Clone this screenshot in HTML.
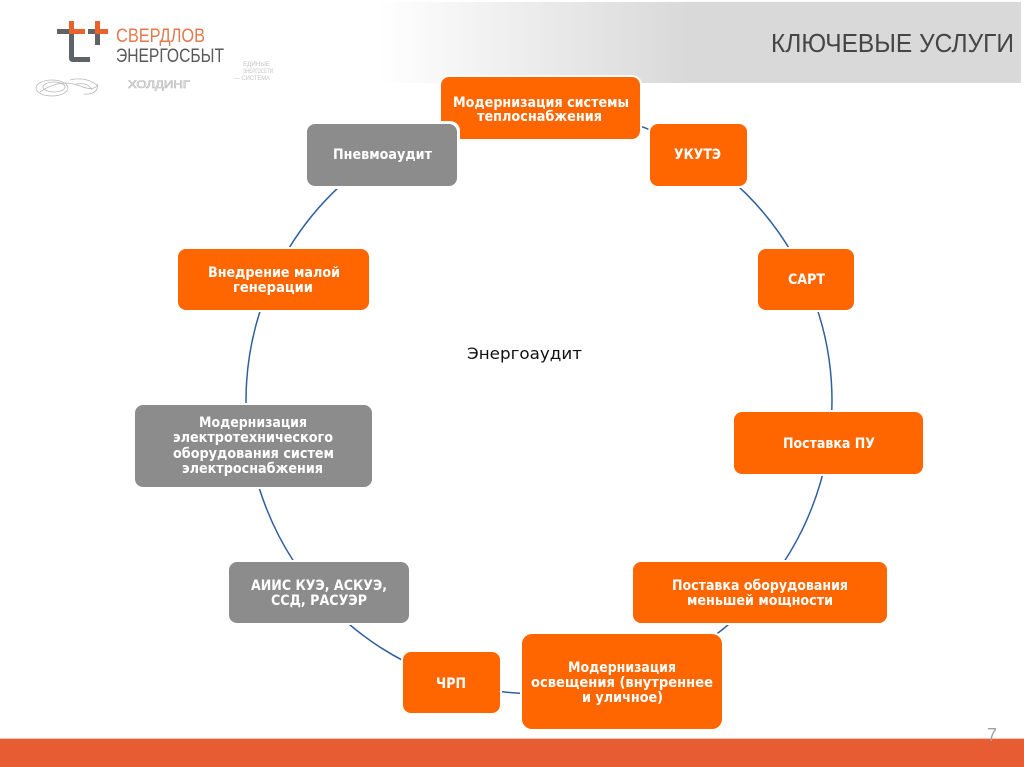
<!DOCTYPE html>
<html>
<head>
<meta charset="utf-8">
<style>
html,body{margin:0;padding:0;background:#fff;}
body{width:1024px;height:767px;overflow:hidden;}
svg{display:block;}
.bx{font-family:"DejaVu Sans","Liberation Sans",sans-serif;font-weight:bold;font-size:14px;fill:#fff;}
</style>
</head>
<body>
<svg width="1024" height="767" viewBox="0 0 1024 767" xmlns="http://www.w3.org/2000/svg">
  <defs>
    <linearGradient id="hdr" x1="0" y1="0" x2="1024" y2="0" gradientUnits="userSpaceOnUse">
      <stop offset="0" stop-color="#ffffff"/>
      <stop offset="0.37" stop-color="#ffffff"/>
      <stop offset="0.67" stop-color="#d9d9d9"/>
      <stop offset="1" stop-color="#d9d9d9"/>
    </linearGradient>
  </defs>

  <!-- header band -->
  <rect x="0" y="2" width="1021" height="81" fill="url(#hdr)"/>
  <text x="771" y="52" font-family="Liberation Sans, sans-serif" font-size="26" fill="#454545" textLength="243" lengthAdjust="spacingAndGlyphs">КЛЮЧЕВЫЕ  УСЛУГИ</text>

  <!-- logo icon -->
  <g>
    <rect x="57" y="29" width="12" height="5" fill="#5f6368"/>
    <rect x="69" y="21" width="5" height="13" fill="#e8622c"/>
    <rect x="74" y="29" width="11" height="5" fill="#e8622c"/>
    <path d="M69 34 H74 V57 H90 V62 H73 Q69 62 69 58 Z" fill="#5f6368"/>
    <rect x="88" y="29" width="7" height="5" fill="#5f6368"/>
    <rect x="95" y="21" width="5" height="13" fill="#e8622c"/>
    <rect x="100" y="29" width="8" height="5" fill="#e8622c"/>
    <rect x="95" y="34" width="5" height="11" fill="#5f6368"/>
  </g>
  <text x="116" y="42" font-family="Liberation Sans, sans-serif" font-size="19" fill="#e27a4e" textLength="89" lengthAdjust="spacingAndGlyphs">СВЕРДЛОВ</text>
  <text x="116" y="62" font-family="Liberation Sans, sans-serif" font-size="19" fill="#58595b" textLength="108" lengthAdjust="spacingAndGlyphs">ЭНЕРГОСБЫТ</text>
  <!-- swirl -->
  <g fill="none" stroke="#b8b8b8" stroke-width="0.8">
    <ellipse cx="52" cy="88" rx="16" ry="8"/>
    <ellipse cx="54" cy="87" rx="11" ry="5"/>
    <path d="M40 92 Q60 78 80 86 Q95 92 98 84"/>
    <path d="M70 80 Q86 76 98 86 Q96 95 84 94"/>
    <path d="M76 84 Q88 82 92 90"/>
  </g>
  <text x="128" y="88" font-family="Liberation Sans, sans-serif" font-size="11" fill="#ffffff" stroke="#b5b5b5" stroke-width="0.6" textLength="62" lengthAdjust="spacingAndGlyphs">ХОЛДИНГ</text>
  <g font-family="Liberation Sans, sans-serif" font-size="6" fill="#c4c4c4">
    <text x="243" y="66" textLength="27" lengthAdjust="spacingAndGlyphs">ЕДИНЫЕ</text>
    <text x="243" y="73" textLength="30" lengthAdjust="spacingAndGlyphs">ЭНЕРГОСЕТИ</text>
    <text x="234" y="80" textLength="36" lengthAdjust="spacingAndGlyphs">— СИСТЕМА</text>
  </g>

  <!-- circle connector -->
  <circle cx="539" cy="401" r="293" fill="none" stroke="#2f5f9e" stroke-width="1.5"/>

  <!-- boxes: white halo then fill -->
  <g>
    <!-- Модернизация системы теплоснабжения -->
    <rect x="439" y="75" width="203" height="66" rx="10" fill="#fff"/>
    <rect x="441" y="77" width="199" height="62" rx="8" fill="#ff6600"/>
    <!-- Пневмоаудит (on top) -->
    <rect x="304" y="121" width="156" height="68" rx="10" fill="#fff"/>
    <rect x="307" y="124" width="150" height="62" rx="8" fill="#8c8c8c"/>
    <!-- УКУТЭ -->
    <rect x="648" y="122" width="101" height="66" rx="10" fill="#fff"/>
    <rect x="650" y="124" width="97" height="62" rx="8" fill="#ff6600"/>
    <!-- Внедрение -->
    <rect x="176" y="247" width="195" height="65" rx="10" fill="#fff"/>
    <rect x="178" y="249" width="191" height="61" rx="8" fill="#ff6600"/>
    <!-- САРТ -->
    <rect x="756" y="247" width="100" height="65" rx="10" fill="#fff"/>
    <rect x="758" y="249" width="96" height="61" rx="8" fill="#ff6600"/>
    <!-- Модернизация электротехнического -->
    <rect x="133" y="403" width="241" height="86" rx="10" fill="#fff"/>
    <rect x="135" y="405" width="237" height="82" rx="8" fill="#8c8c8c"/>
    <!-- Поставка ПУ -->
    <rect x="732" y="410" width="193" height="66" rx="10" fill="#fff"/>
    <rect x="734" y="412" width="189" height="62" rx="8" fill="#ff6600"/>
    <!-- АИИС -->
    <rect x="227" y="560" width="184" height="65" rx="10" fill="#fff"/>
    <rect x="229" y="562" width="180" height="61" rx="8" fill="#8c8c8c"/>
    <!-- Поставка оборудования -->
    <rect x="631" y="560" width="258" height="65" rx="10" fill="#fff"/>
    <rect x="633" y="562" width="254" height="61" rx="8" fill="#ff6600"/>
    <!-- ЧРП -->
    <rect x="401" y="650" width="101" height="65" rx="10" fill="#fff"/>
    <rect x="403" y="652" width="97" height="61" rx="8" fill="#ff6600"/>
    <!-- Модернизация освещения -->
    <rect x="520" y="632" width="204" height="99" rx="12" fill="#fff"/>
    <rect x="522" y="634" width="200" height="95" rx="10" fill="#ff6600"/>
  </g>

  <!-- box labels -->
  <g class="bx">
    <text x="453" y="107" textLength="176" lengthAdjust="spacingAndGlyphs">Модернизация системы</text>
    <text x="477" y="121" textLength="125" lengthAdjust="spacingAndGlyphs">теплоснабжения</text>
    <text x="333" y="159" textLength="99" lengthAdjust="spacingAndGlyphs">Пневмоаудит</text>
    <text x="674" y="159" textLength="47" lengthAdjust="spacingAndGlyphs">УКУТЭ</text>
    <text x="208" y="277" textLength="132" lengthAdjust="spacingAndGlyphs">Внедрение малой</text>
    <text x="233" y="292" textLength="80" lengthAdjust="spacingAndGlyphs">генерации</text>
    <text x="788" y="284" textLength="37" lengthAdjust="spacingAndGlyphs">САРТ</text>
    <text x="199" y="427" textLength="108" lengthAdjust="spacingAndGlyphs">Модернизация</text>
    <text x="173" y="442" textLength="160" lengthAdjust="spacingAndGlyphs">электротехнического</text>
    <text x="173" y="458" textLength="161" lengthAdjust="spacingAndGlyphs">оборудования систем</text>
    <text x="182" y="473" textLength="141" lengthAdjust="spacingAndGlyphs">электроснабжения</text>
    <text x="783" y="448" textLength="92" lengthAdjust="spacingAndGlyphs">Поставка ПУ</text>
    <text x="251" y="590" textLength="136" lengthAdjust="spacingAndGlyphs">АИИС КУЭ, АСКУЭ,</text>
    <text x="271" y="605" textLength="96" lengthAdjust="spacingAndGlyphs">ССД, РАСУЭР</text>
    <text x="672" y="590" textLength="176" lengthAdjust="spacingAndGlyphs">Поставка оборудования</text>
    <text x="687" y="605" textLength="146" lengthAdjust="spacingAndGlyphs">меньшей мощности</text>
    <text x="436" y="688" textLength="30" lengthAdjust="spacingAndGlyphs">ЧРП</text>
    <text x="568" y="672" textLength="108" lengthAdjust="spacingAndGlyphs">Модернизация</text>
    <text x="531" y="687" textLength="182" lengthAdjust="spacingAndGlyphs">освещения  (внутреннее</text>
    <text x="582" y="702" textLength="81" lengthAdjust="spacingAndGlyphs">и уличное)</text>
  </g>

  <!-- center label -->
  <text x="467" y="359" font-family="DejaVu Sans, Liberation Sans, sans-serif" font-size="16" fill="#111" textLength="115" lengthAdjust="spacingAndGlyphs">Энергоаудит</text>

  <!-- bottom bar -->
  <rect x="0" y="738" width="1024" height="1" fill="#f6c7b8"/>
  <rect x="0" y="739" width="1024" height="28" fill="#e85c33"/>
  <text x="987" y="741" font-family="Liberation Sans, sans-serif" font-size="18" fill="#a0a0a0">7</text>
</svg>
</body>
</html>
